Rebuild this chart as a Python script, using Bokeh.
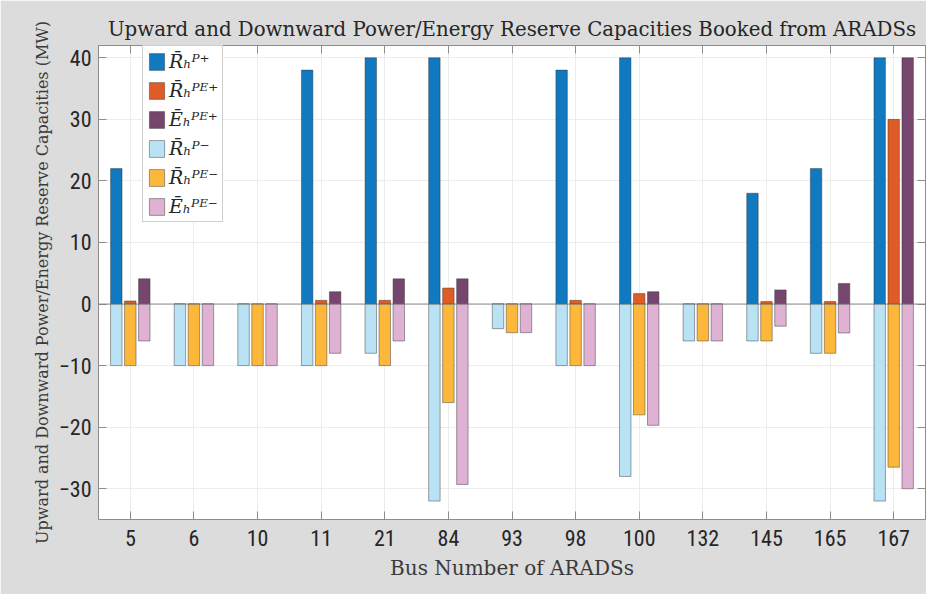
from bokeh.plotting import figure
from bokeh.models import (FactorRange, Range1d, FixedTicker, Legend, LegendItem,
                          Span, CategoricalAxis, LinearAxis, ColumnDataSource,
                          CustomJSTickFormatter)
from bokeh.transform import dodge
from bokeh.embed import file_html
from bokeh.resources import INLINE

# ---------------- data ----------------
buses = ["5", "6", "10", "11", "21", "84", "93", "98", "100", "132", "145", "165", "167"]
r_p_up = [22, 0, 0, 38, 40, 40, 0, 38, 40, 0, 18, 22, 40]
r_pe_up = [0.5, 0, 0, 0.6, 0.6, 2.6, 0, 0.6, 1.7, 0, 0.4, 0.4, 30]
e_pe_up = [4.1, 0, 0, 2.0, 4.1, 4.1, 0, 0, 2.0, 0, 2.3, 3.35, 40]
r_p_dn = [-10, -10, -10, -10, -8, -32, -4, -10, -28, -6, -6, -8, -32]
r_pe_dn = [-10, -10, -10, -10, -10, -16, -4.65, -10, -18, -6, -6, -8, -26.5]
e_pe_dn = [-6, -10, -10, -8, -6, -29.3, -4.65, -10, -19.7, -6, -3.6, -4.7, -30]
y_ticks = [-30, -20, -10, 0, 10, 20, 30, 40]

labels = ["R\u0304\u2095\u1d3e\u207a", "R\u0304\u2095\u1d3e\u1d31\u207a", "\u0112\u2095\u1d3e\u1d31\u207a",
          "R\u0304\u2095\u1d3e\u207b", "R\u0304\u2095\u1d3e\u1d31\u207b", "\u0112\u2095\u1d3e\u1d31\u207b"]
colors = ["#1179c0", "#e05c26", "#76466f", "#b9e3f5", "#fdb83c", "#dfb1d3"]

src = ColumnDataSource(dict(bus=buses, rpu=r_p_up, rpeu=r_pe_up, epeu=e_pe_up,
                            rpd=r_p_dn, rped=r_pe_dn, eped=e_pe_dn))

SERIF = "DejaVu Serif"
SANS = "Liberation Sans Narrow, Roboto Condensed, Liberation Sans"

p = figure(width=926, height=594, output_backend="svg", toolbar_location=None,
           x_range=FactorRange(factors=buses), y_range=Range1d(-35, 42),
           title="Upward and Downward Power/Energy Reserve Capacities Booked from ARADSs",
           min_border_left=98, min_border_right=1, min_border_top=45, min_border_bottom=75)

p.background_fill_color = "white"
p.border_fill_color = "#dcdcdd"
p.outline_line_color = "#9a9a9a"

p.title.text_font = SERIF
p.title.text_font_size = "19.8px"
p.title.text_font_style = "normal"
p.title.text_color = "#262626"
p.title.align = "center"
p.title.standoff = 10

cols_up = ["rpu", "rpeu", "epeu"]
cols_dn = ["rpd", "rped", "eped"]
offs = [-0.22, 0.0, 0.22]
renderers = []
for i in range(3):
    r = p.vbar(x=dodge("bus", offs[i], range=p.x_range), width=0.18, top=cols_up[i], bottom=0,
               source=src, fill_color=colors[i], line_color="#333333", line_alpha=0.45, line_width=1)
    renderers.append(r)
for i in range(3):
    r = p.vbar(x=dodge("bus", offs[i], range=p.x_range), width=0.18, top=0, bottom=cols_dn[i],
               source=src, fill_color=colors[3 + i], line_color="#333333", line_alpha=0.45, line_width=1)
    renderers.append(r)

p.add_layout(Span(location=0, dimension="width", line_color="#808080", line_width=1, line_alpha=0.9))

# axes
p.yaxis.ticker = FixedTicker(ticks=y_ticks)
for ax in (p.xaxis[0], p.yaxis[0]):
    ax.major_tick_in = 8
    ax.major_tick_out = 0
    ax.minor_tick_in = 0
    ax.minor_tick_out = 0
    ax.major_tick_line_color = "#8c8c8c"
    ax.axis_line_color = "#8c8c8c"
    ax.major_label_text_font = SANS
    ax.major_label_text_font_size = "22px"
    ax.major_label_text_color = "#262626"
    ax.axis_label_text_font = SERIF
    ax.axis_label_text_font_style = "normal"
    ax.axis_label_text_color = "#3a3a3a"

p.yaxis.major_label_standoff = 7
p.yaxis.axis_label = "Upward and Downward Power/Energy Reserve Capacities (MW)"
p.yaxis.axis_label_text_font_size = "16px"
p.yaxis.axis_label_standoff = 4
p.xaxis.major_label_standoff = 10
p.xaxis.axis_label = "Bus Number of ARADSs"
p.xaxis.axis_label_text_font_size = "20px"
p.xaxis.axis_label_standoff = 7

top_ax = CategoricalAxis(major_tick_in=8, major_tick_out=0, major_label_standoff=0,
                         major_tick_line_color="#8c8c8c", axis_line_color="#8c8c8c",
                         formatter=CustomJSTickFormatter(code="return '';"))
right_ax = LinearAxis(ticker=FixedTicker(ticks=y_ticks), major_tick_in=8, major_tick_out=0,
                      minor_tick_in=0, minor_tick_out=0, major_label_standoff=0,
                      major_tick_line_color="#8c8c8c", axis_line_color="#8c8c8c",
                      formatter=CustomJSTickFormatter(code="return '';"))
p.add_layout(top_ax, "above")
p.add_layout(right_ax, "right")

p.xgrid.grid_line_color = "#ececec"
p.ygrid.grid_line_color = "#ececec"

legend = Legend(items=[LegendItem(label=labels[i], renderers=[renderers[i]]) for i in range(6)],
                location=(44, 297))
legend.glyph_width = 19
legend.glyph_height = 21
legend.label_height = 21
legend.spacing = 7
legend.padding = 4
legend.margin = 0
legend.label_standoff = 3
legend.label_text_font = SERIF
legend.label_text_font_style = "italic"
legend.label_text_font_size = "19px"
legend.label_text_color = "#262626"
legend.border_line_color = "#a0a0a0"
legend.background_fill_alpha = 1
p.add_layout(legend, "center")

open("out.html", "w").write(file_html(p, INLINE))
